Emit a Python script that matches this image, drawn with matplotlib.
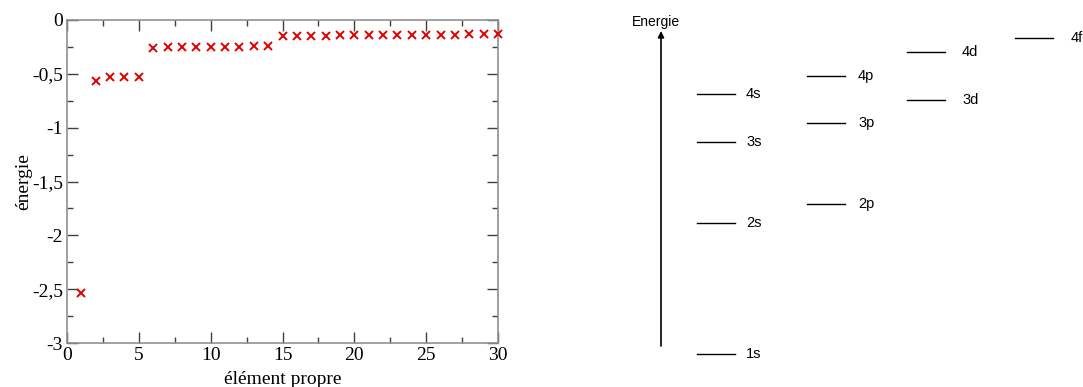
import matplotlib
matplotlib.use("Agg")
import matplotlib.pyplot as plt
from matplotlib.ticker import MultipleLocator, FuncFormatter

# ---- data: eigenvalues (left panel) ----
eig_index = list(range(1, 31))
eig_energy = [-2.54, -0.57, -0.527, -0.526, -0.525,
              -0.26, -0.252, -0.25, -0.25, -0.249, -0.248, -0.247, -0.246, -0.242,
              -0.15, -0.147, -0.145, -0.144, -0.143, -0.142, -0.141, -0.14, -0.139,
              -0.138, -0.137, -0.136, -0.135, -0.134, -0.133, -0.132]

# ---- data: schematic energy levels (right panel, arbitrary units) ----
orbitals = ['1s', '2s', '3s', '4s', '2p', '3p', '4p', '3d', '4d', '4f']
orbital_col = [0, 0, 0, 0, 1, 1, 1, 2, 2, 3]
orbital_level = [33, 164, 245, 293, 183, 264, 311, 287, 335, 349]

W, H = 1083, 387
fig = plt.figure(figsize=(W / 100, H / 100), dpi=100)

# ---------------- left panel ----------------
ax = fig.add_axes([67 / W, 1 - 343 / H, 431 / W, 323 / H])
ax.plot(eig_index, eig_energy, linestyle='none', marker='x', color='#e00000',
        markersize=5.5, markeredgewidth=1.4, clip_on=False, zorder=3)
ax.set_xlim(0, 30)
ax.set_ylim(-3, 0)
ax.xaxis.set_major_locator(MultipleLocator(5))
ax.xaxis.set_minor_locator(MultipleLocator(2.5))
ax.yaxis.set_major_locator(MultipleLocator(0.5))
ax.yaxis.set_minor_locator(MultipleLocator(0.25))

def fmt(v, pos):
    return ('%g' % v).replace('.', ',')

ax.yaxis.set_major_formatter(FuncFormatter(fmt))
ax.xaxis.set_major_formatter(FuncFormatter(fmt))
ax.tick_params(which='both', direction='in', top=True, right=True,
               color='#404040', width=1)
ax.tick_params(which='major', length=8, labelsize=14, pad=3)
ax.tick_params(which='minor', length=4)
for sp in ax.spines.values():
    sp.set_color('#909090')
    sp.set_linewidth(1.2)
for lab in ax.get_xticklabels() + ax.get_yticklabels():
    lab.set_family('Liberation Serif')
ax.set_xlabel('élément propre', family='Liberation Serif', fontsize=14, labelpad=5)
ax.set_ylabel('énergie', family='Liberation Serif', fontsize=14, labelpad=0)

# ---------------- right panel ----------------
ax2 = fig.add_axes([600 / W, 0, 483 / W, 1])
ax2.set_xlim(600, 1083)
ax2.set_ylim(0, 387)
ax2.axis('off')

col_x = [697, 807, 907, 1015]
label_gap = [11, 13, 17, 18]
line_len = 38
for name, c, e in zip(orbitals, orbital_col, orbital_level):
    x0 = col_x[c]
    ax2.plot([x0, x0 + line_len], [e, e], color='black', linewidth=1)
    ax2.text(x0 + line_len + label_gap[c], e, name, family='Liberation Sans',
             fontsize=10.5, ha='left', va='center')

ax2.annotate('', xy=(661, 356), xytext=(661, 41),
             arrowprops=dict(arrowstyle='-|>', color='black', lw=1.2,
                             mutation_scale=9, shrinkA=0, shrinkB=0))
ax2.text(632, 365, 'Energie', family='Liberation Sans', fontsize=10,
         ha='left', va='center')

fig.savefig('out.png', dpi=100, facecolor='white')
